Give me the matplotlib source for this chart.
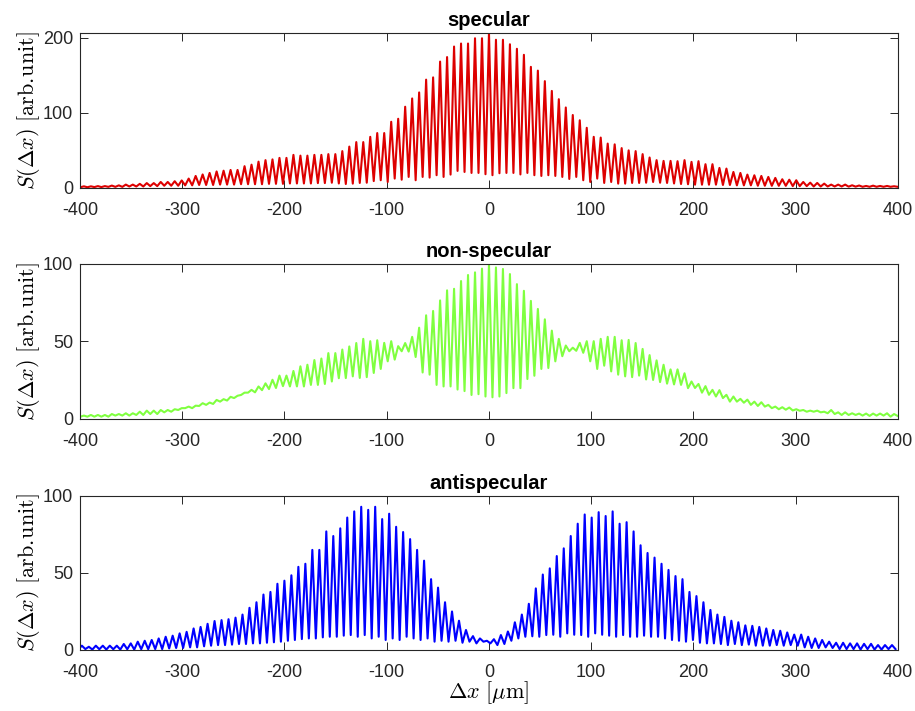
import matplotlib
matplotlib.use('Agg')
import matplotlib.pyplot as plt
import numpy as np

plt.rcParams['font.family'] = ['Liberation Sans', 'DejaVu Sans']
plt.rcParams['mathtext.fontset'] = 'cm'

# fringe spacing [um] and where the fringe pattern starts for each panel
period = 6.83
spec_shift = 0.0
nonspec_shift = 0.0
anti_shift = -2.0

# heights of the fringe maxima, left to right (k = -58 ... 58)
spec_peaks = [
    2.2, 2.2, 2.5, 2.5, 3.2, 3.5, 4.5, 4.5, 5.5, 6.5,
    6.5, 8, 8, 9, 10, 12.5, 16, 18, 20, 22,
    23, 24, 24, 29, 31, 35, 37, 38, 40, 40,
    44, 43, 43, 44, 44, 45, 45, 49, 55, 61,
    61, 68, 73, 73, 88, 92, 108, 119, 127, 144,
    147, 168, 174, 188, 192, 192, 199, 199,
    206,
    197, 197, 191, 185, 177, 161, 156, 142, 129, 118,
    107, 97, 90, 80, 68, 67, 59, 58, 53, 50,
    49, 45, 40.5, 37, 36, 36, 35.6, 37, 34.7, 35.6,
    31.6, 31.6, 26.7, 25.8, 21.3, 20, 17.8, 16.9, 16, 14.7,
    13.4, 11.6, 11, 10.3, 8, 7.1, 6.7, 5.8, 4.5, 4.5,
    4.5, 3.6, 3.3, 2.7, 3.1, 2.7, 2.7, 2.3,
]
# fringe minima, between the maxima (118 values)
spec_troughs = [
    1.0, 1.0, 1.2, 1.2, 1.5, 1.5, 1.5, 2, 2, 2,
    2.5, 2.5, 3, 3, 3, 3.5, 3.5, 4, 4, 4,
    4.5, 4.5, 4.5, 5, 5, 5, 5, 5.5, 5.5, 5.5,
    6, 6, 6, 6, 6.5, 6.5, 7, 6,
    5.3, 5.8, 6.7, 7, 9.2, 10.3, 8, 12.5, 11, 14.7,
    10.3, 14.7, 13.8, 17, 14.7, 17.8, 22.7, 21.3, 20, 20, 18.3,
    17, 19.6, 20, 20, 18, 20, 17, 16, 17, 16,
    14.7, 12, 14.7, 10.3, 8, 12.5, 6.7, 8, 5.8, 5.8, 6.7,
    6.7, 7, 8, 7, 6.7, 6, 5.3, 5, 4.4, 4.4,
    4.4, 4.4, 4, 4, 3.5, 3.5, 3.5, 3, 3, 2.9,
    2.9, 2.9, 2.5, 2.5, 2.5, 2, 2, 2, 2, 2,
    1.8, 1.8, 1.6, 1.6, 1.6, 1.6, 1.6, 1.6,
]

nonspec_peaks = [
    2.2, 2.6, 2.6, 2.6, 3.2, 3.2, 3.7, 3.7, 4.7, 5.4,
    5.4, 5.8, 5.8, 6.3, 7, 8, 8.6, 10.2, 10.6, 12.3,
    12.8, 14.3, 15, 17, 18.8, 21, 23, 25.3, 28, 28,
    31, 34, 35, 38, 39, 42.5, 42.5, 44.8, 46.8, 49,
    51.7, 50.2, 50.8, 49.1, 50.2, 47, 49, 53, 58.9, 66.9,
    69.7, 76.5, 83, 84, 89, 92.9, 94.6, 97,
    100,
    97.8, 96.8, 93.5, 87, 82.7, 76.2, 71, 64.3, 57, 51.7,
    47.4, 46, 49.1, 50.2, 50.2, 51.7, 53, 53, 50.8, 51,
    49, 45.2, 41.2, 37.8, 35, 32, 32, 29.5, 24.2, 22.6,
    21.2, 18.8, 18.6, 15.6, 14.5, 13, 12.5, 11.2, 10.8, 9.1,
    8, 7.6, 7.4, 6.3, 5.8, 5.4, 5.4, 4.7, 5.8, 4.3,
    4.3, 3.7, 3.5, 3.5, 3.5, 3.5, 3.7, 3.2,
]
nonspec_troughs = [
    1.5, 1.5, 1.5, 1.5, 1.5, 2.2, 2.2, 2.2, 2.6, 2.6,
    3.2, 3.2, 4.3, 4.7, 5.8, 7, 7, 8.4, 9.1, 9.7,
    11.2, 11.9, 13.5, 15.5, 17, 17.2, 18.6, 19.3, 20, 21.2,
    21, 21, 21, 22, 22, 22.6, 24.2, 26.3, 26.4, 27.5,
    26.5, 27, 29.7, 32.3, 37.2, 38.3, 43.7, 43.5, 40, 30,
    28.6, 22, 21, 21, 19, 18, 15.5, 16, 14.5,
    14, 14.5, 16.7, 19.9, 19.9, 25.8, 27.9, 32.3, 32.9, 37.2,
    40.5, 43.7, 44, 42.7, 37.2, 32.3, 34.4, 30.7, 28.6, 27.5,
    27, 28, 25.5, 25.2, 23.8, 22.8, 22.3, 22, 19.9, 20,
    17, 15.6, 14.5, 13.5, 11.2, 11.2, 10.5, 9.1, 8.4, 8,
    7, 6.3, 6, 5.5, 5.3, 4.7, 4.7, 4.3, 3.7, 3.2,
    2.6, 2.6, 2.6, 2.2, 2, 2.2, 2.2, 1.5, 2,
]

anti_peaks = [
    2.8, 2.1, 2.8, 2.8, 2.8, 2.8, 3.9, 4.3, 5.4, 6,
    6.5, 7.5, 8.6, 9.3, 10.8, 11.8, 14, 15, 17, 18.8,
    19.4, 20, 21, 23, 27.4, 31, 36, 37.7, 43, 45,
    48.5, 54, 56, 65, 65, 77, 74, 79, 86, 90,
    93, 91, 93, 85, 88.5, 80, 76.6, 72, 65, 58,
    46, 40.5, 31, 25, 19, 13, 9, 7.5,
    6,
    7, 9.7, 12, 18, 23, 30, 40, 49, 53, 61,
    66, 74, 82, 88, 86, 89.5, 87, 90, 82, 83,
    77, 68, 63, 60, 56, 52, 48, 46, 37.7, 35,
    31, 26, 23, 21.5, 19, 18, 16, 15.7, 15, 14,
    13, 12.5, 11.4, 10, 10, 8.6, 7.5, 6.5, 5.4, 4.7,
    4.7, 4.3, 4.3, 4, 4, 3.2, 3.2, 3.2,
]
anti_troughs = [
    0.5, 0.6, 0.3, 0.5, 0.3, 0.5, 0.3, 0.5, 0.3, 0.5,
    0.5, 0.6, 0.6, 1, 1.3, 1.3, 1.7, 1.7, 2.4, 2.8,
    3.2, 3.2, 3.5, 3.9, 3.9, 4.3, 4.3, 4.7, 5, 5.4,
    6, 6.5, 7.1, 7.5, 7.5, 8.2, 8.6, 8.6, 9.3, 9.7,
    8.6, 9.7, 7.5, 8.6, 6.5, 7.5, 6.5, 8.6, 7.5, 6.5,
    7.5, 5.4, 6, 5.4, 6, 4.7, 5.4, 4.3, 5.4,
    4.3, 3.2, 3.9, 6, 7.5, 8.6, 8.9, 8.6, 9.7, 9.9,
    8.6, 10.8, 9.9, 9.7, 8.6, 10.8, 9.9, 9.3, 8.6, 9.7,
    8.6, 8.6, 9.3, 8.6, 8.6, 7.5, 6.5, 6, 5.4, 6.5,
    4.7, 4.3, 4.3, 3.9, 3.2, 3.9, 3.2, 3.5, 2.8, 2.8,
    2.8, 3.2, 2.8, 3.2, 2.8, 1.7, 1.3, 1.3, 1.7, 1.3,
    0.6, 0.6, 0.6, 0.3, 0.6, 0.3, 0.3, 0.6, 0.6,
]

titles = ['specular', 'non-specular', 'antispecular']
colors = ['#dd0000', '#80ff40', '#0000ff']
ymaxes = [206, 100, 100]
yticks = [[0, 100, 200], [0, 50, 100], [0, 50, 100]]
xticks = [-400, -300, -200, -100, 0, 100, 200, 300, 400]


def fringe_line(peaks, troughs, shift):
    n = len(peaks)
    k = np.arange(n) - (n - 1) // 2
    xp = k * period + shift
    xt = np.append(xp - period / 2, xp[-1] + period / 2)
    x = np.empty(n + len(xt))
    y = np.empty(n + len(xt))
    x[0::2] = xt
    x[1::2] = xp
    y[0::2] = troughs
    y[1::2] = peaks
    return x, y


series = [
    fringe_line(spec_peaks, spec_troughs, spec_shift),
    fringe_line(nonspec_peaks, nonspec_troughs, nonspec_shift),
    fringe_line(anti_peaks, anti_troughs, anti_shift),
]

fig = plt.figure(figsize=(9.15, 7.11), dpi=100)
boxes = [
    [0.0874, 0.7356, 0.894, 0.218],
    [0.0874, 0.4107, 0.894, 0.218],
    [0.0874, 0.0858, 0.894, 0.2166],
]

for i in range(3):
    ax = fig.add_axes(boxes[i])
    x, y = series[i]
    ax.plot(x, y, color=colors[i], lw=1.5)
    ax.set_xlim(-400, 400)
    ax.set_ylim(0, ymaxes[i])
    ax.set_xticks(xticks)
    ax.set_xticklabels([str(t) for t in xticks])
    ax.set_yticks(yticks[i])
    ax.tick_params(direction='in', top=True, right=True, length=5.5,
                   width=0.7, labelsize=13, colors='#262626')
    ax.tick_params(axis='x', pad=10)
    ax.tick_params(axis='y', pad=5)
    for s in ax.spines.values():
        s.set_linewidth(0.8)
        s.set_color('#262626')
    ax.set_title(titles[i], fontsize=14.5, fontweight='bold', pad=5)
    ax.set_ylabel(r'$S(\Delta x)\ [\mathrm{arb.\!unit}]$', fontsize=16)
    ax.yaxis.set_label_coords(-0.047, 0.5)
    if i == 2:
        ax.set_xlabel(r'$\Delta x\ [\mu\mathrm{m}]$', fontsize=16, labelpad=-1)

fig.savefig('out.png', dpi=100)
